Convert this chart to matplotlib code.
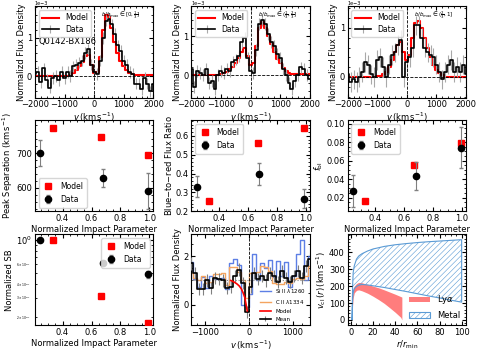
import numpy as np
import matplotlib
matplotlib.use("Agg")
import matplotlib.pyplot as plt

# ---- data ----
v_bins = np.arange(-2000, 2001, 100)

# flux in units of 1e-3
data1 = [0.05, 0.1, -0.15, 0.2, -0.1, -0.3, -0.05, 0.0, -0.1, 0.1, -0.05, 0.1, 0.0, 0.25,
         0.3, 0.35, 0.4, 0.6, 0.7, 0.3, 0.1, 0.05, 0.4, 1.0, 1.45, 1.5, 1.35, 1.1, 0.8, 0.65,
         0.4, 0.3, 0.1, 0.05, -0.2, -0.2, -0.35, -0.05, -0.2, -0.4, -0.2]
model1 = [0.0, 0.0, 0.0, 0.0, 0.0, 0.0, 0.0, 0.0, 0.0, 0.0, 0.01, 0.01, 0.02, 0.08,
          0.15, 0.25, 0.38, 0.52, 0.55, 0.3, 0.08, 0.1, 0.5, 1.2, 1.6, 1.55, 1.25, 0.9, 0.6, 0.4,
          0.25, 0.15, 0.08, 0.05, 0.04, 0.04, 0.03, 0.03, 0.03, 0.03, 0.03]
data2 = [0.15, -0.3, 0.1, 0.05, 0.0, 0.15, -0.2, -0.15, -0.35, 0.0, 0.1, 0.05, 0.15, 0.1,
         0.35, 0.4, 0.5, 0.85, 0.95, 0.45, 0.1, 0.05, 0.65, 1.3, 1.4, 1.3, 1.05, 0.85, 0.75, 0.55,
         0.45, 0.15, 0.0, -0.2, -0.35, -0.15, 0.0, 0.2, 0.15, 0.0, -0.1]
model2 = [0.0, 0.0, 0.0, 0.0, 0.0, 0.0, 0.0, 0.0, 0.0, 0.0, 0.02, 0.05, 0.08, 0.15,
          0.22, 0.32, 0.45, 0.6, 0.7, 0.5, 0.25, 0.3, 0.75, 1.2, 1.35, 1.2, 1.0, 0.8, 0.6, 0.42,
          0.3, 0.18, 0.1, 0.05, 0.02, 0.02, 0.02, 0.02, 0.02, 0.02, 0.02]
data3 = [0.05, -0.1, -0.05, -0.1, 0.0, 0.1, 0.3, 0.25, 0.05, 0.0, 0.35, 0.4, 0.2, 0.0,
         0.25, 0.45, 0.5, 0.65, 0.75, 0.0, 0.3, 0.4, 0.6, 1.05, 1.05, 0.8, 0.6, 0.5, 0.45, 0.4,
         0.25, 0.1, -0.05, 0.1, 0.25, 0.35, 0.1, 0.2, 0.1, 0.25, 0.05]
model3 = [0.0, 0.0, 0.0, 0.0, 0.0, 0.0, 0.0, 0.0, 0.0, 0.0, 0.01, 0.02, 0.05, 0.1,
          0.2, 0.35, 0.5, 0.65, 0.72, 0.5, 0.35, 0.45, 0.8, 1.1, 1.15, 1.0, 0.8, 0.6, 0.4, 0.25,
          0.15, 0.08, 0.03, 0.0, 0.0, 0.0, 0.0, 0.0, 0.0, 0.0, 0.0]
spec_err = [0.15, 0.15, 0.2]
spec_ylim = [(-0.56, 1.82), (-0.57, 1.76), (-0.42, 1.44)]
bin_labels = [r"$b/b_{\rm max}\in[0,\frac{1}{3}]$",
              r"$b/b_{\rm max}\in(\frac{1}{3},\frac{2}{3}]$",
              r"$b/b_{\rm max}\in(\frac{2}{3},1]$"]

b_data = [0.247, 0.68, 0.99]
b_model = [0.333, 0.667, 0.99]

sep_data = [700, 627, 592]
sep_lo = [38, 25, 52]
sep_hi = [38, 26, 51]
sep_model = [773, 747, 695]

ratio_data = [0.33, 0.397, 0.267]
ratio_err = [0.055, 0.057, 0.052]
ratio_model = [0.255, 0.563, 0.64]

fb_data = [0.027, 0.043, 0.074]
fb_err = [0.017, 0.015, 0.022]
fb_model = [0.016, 0.055, 0.079]

sb_data = [1.0, 0.62, 0.49]
sb_err = [0.0, 0.02, 0.035]
sb_model = [1.0, 0.31, 0.175]

v_met = np.arange(-1320, 1381, 90)
si2 = [1.75, 1.05, 0.75, 1.15, 0.7, 1.2, 1.05, 1.05, 1.1, 0.65, 1.7, 1.9, 1.65, 0.0, -0.1,
       0.45, 2.1, 1.0, 1.7, 1.5, 1.85, 1.15, 1.8, 1.2, 1.75, 0.75, 1.2, 2.1, 2.65, 1.0, 2.0]
c2 = [1.3, 1.1, 1.0, 1.2, 0.9, 0.95, 1.25, 1.25, 1.3, 0.8, 1.55, 1.55, 1.35, 1.0, 0.3,
      1.3, 1.3, 1.35, 1.6, 1.55, 1.4, 0.9, 0.85, 0.85, 0.95, 0.9, 1.05, 1.1, 1.05, 1.2, 1.6]
mean_met = [1.7, 1.3, 0.65, 0.65, 1.0, 0.7, 1.1, 1.05, 1.0, 0.7, 0.75, 1.2, 1.45, 0.9, -0.3,
            0.75, 1.3, 1.05, 1.2, 1.0, 1.3, 1.2, 0.95, 1.4, 1.1, 0.95, 1.2, 1.4, 1.1, 1.6, 1.9]
v_met_model = [-420, -380, -330, -280, -230, -180, -140, -100, -70, -45]
met_model = [1.0, 0.97, 0.92, 0.86, 0.78, 0.66, 0.5, 0.3, 0.0, -0.25]

r_lya = [1, 1.5, 2, 3, 5, 7, 10, 15, 20, 25, 30, 35, 40, 45, 46]
lya_hi = [60, 150, 185, 200, 215, 222, 220, 210, 200, 190, 178, 165, 152, 138, 135]
lya_lo = [0, 90, 130, 160, 175, 178, 172, 158, 140, 120, 98, 72, 45, 15, 0]
r_met = [1, 1.5, 2, 3, 5, 7, 10, 15, 20, 30, 40, 50, 60, 70, 80, 90, 100]
met_hi = [0, 200, 280, 320, 360, 378, 392, 408, 420, 435, 445, 452, 458, 463, 467, 471, 475]
met_lo = [0, 120, 160, 185, 198, 205, 210, 207, 202, 192, 180, 168, 155, 142, 130, 117, 105]

# ---- style ----
plt.rcParams.update({
    "font.size": 6,
    "xtick.direction": "in", "ytick.direction": "in",
    "xtick.top": True, "ytick.right": True,
    "xtick.major.size": 3, "ytick.major.size": 3,
    "xtick.minor.size": 1.5, "ytick.minor.size": 1.5,
    "xtick.minor.visible": True, "ytick.minor.visible": True,
    "legend.fontsize": 5.5,
    "hatch.linewidth": 0.4,
})

fig, axes = plt.subplots(3, 3, figsize=(4.79, 3.53), dpi=100)
fig.subplots_adjust(left=0.073, right=0.973, top=0.982, bottom=0.078, wspace=0.32, hspace=0.25)

# row 1: Lya spectra
specs = [(data1, model1), (data2, model2), (data3, model3)]
for i, (d, m) in enumerate(specs):
    ax = axes[0, i]
    ax.plot(v_bins, m, color="red", lw=1.5, drawstyle="steps-mid", label="Model")
    ax.errorbar(v_bins, d, yerr=spec_err[i], color="k", lw=1.2,
                drawstyle="steps-mid", ecolor="darkgrey", elinewidth=0.8, label="Data")
    ax.axvline(0, color="k", ls="--", lw=0.6)
    ax.axhline(0, color="k", ls="--", lw=0.6)
    ax.set_xlim(-2000, 2000)
    ax.set_ylim(*spec_ylim[i])
    ax.set_yticks([0, 1])
    ax.set_xlabel(r"$v\,(\rm km\,s^{-1})$", labelpad=1)
    ax.set_ylabel("Normalizd Flux Density", labelpad=1)
    ax.text(0.0, 1.003, "1e\u22123", transform=ax.transAxes, fontsize=3.5, va="bottom")
    ax.legend(loc="upper left", handlelength=2.2, borderpad=0.4, labelspacing=0.3)
    ax.text(0.56, 0.88, bin_labels[i], transform=ax.transAxes, fontsize=4)
    ax.tick_params(pad=2)
axes[0, 0].text(-1880, 0.85, "Q0142-BX186", fontsize=6)

# row 2
def points(ax, yd, ylo, yhi, ym, loc):
    ax.plot(b_model, ym, "s", color="red", ms=4.5, label="Model", zorder=3)
    ax.errorbar(b_data, yd, yerr=[ylo, yhi], fmt="o", color="k", ms=4.5, ecolor="grey",
                elinewidth=0.8, capsize=1.5, label="Data", zorder=3)
    ax.set_xlim(0.21, 1.027)
    ax.set_xticks([0.4, 0.6, 0.8, 1.0])
    ax.set_xlabel("Normalized Impact Parameter", labelpad=1)
    ax.legend(loc=loc, handlelength=1.5, borderpad=0.5, labelspacing=0.5)
    ax.tick_params(pad=2)

ax = axes[1, 0]
points(ax, sep_data, sep_lo, sep_hi, sep_model, "lower left")
ax.set_ylim(532, 794)
ax.set_yticks([600, 700])
ax.set_ylabel(r"Peak Separation $(\rm km\,s^{-1})$", labelpad=1)

ax = axes[1, 1]
points(ax, ratio_data, ratio_err, ratio_err, ratio_model, "upper left")
ax.set_ylim(0.198, 0.683)
ax.set_ylabel(r"Blue$-$to$-$red Flux Ratio", labelpad=1)

ax = axes[1, 2]
points(ax, fb_data, fb_err, fb_err, fb_model, "upper left")
ax.set_ylim(0.005, 0.1035)
ax.set_yticks([0.02, 0.04, 0.06, 0.08, 0.10])
ax.set_ylabel(r"$f_{\rm bl}$", labelpad=1)

# row 3, col 1: SB
ax = axes[2, 0]
ax.set_yscale("log")
points(ax, sb_data, sb_err, sb_err, sb_model, "upper right")
ax.set_ylim(0.167, 1.13)
ax.set_ylabel("Normalized SB", labelpad=1)
ax.tick_params(which="minor", labelsize=2.2)

# row 3, col 2: metal absorption
ax = axes[2, 1]
ax.plot(v_met, si2, color="royalblue", lw=1.0, drawstyle="steps-mid", alpha=0.85, label=r"Si II $\lambda$1260")
ax.plot(v_met, c2, color="sandybrown", lw=1.0, drawstyle="steps-mid", label=r"C II $\lambda$1334")
ax.plot(v_met_model, met_model, color="red", lw=1.2, label="Model", zorder=4)
ax.errorbar(v_met, mean_met, yerr=0.25, color="k", lw=1.2, drawstyle="steps-mid",
            ecolor="grey", elinewidth=0.8, label="Mean", zorder=3)
ax.axvline(0, color="k", ls="--", lw=0.6)
ax.axhline(1, color="grey", ls=":", lw=0.8)
ax.set_xlim(-1320, 1380)
ax.set_ylim(-0.85, 2.9)
ax.set_yticks([0, 2])
ax.set_xlabel(r"$v\,(\rm km\,s^{-1})$", labelpad=1)
ax.set_ylabel("Normalized Flux Density", labelpad=1)
ax.legend(loc="lower right", fontsize=4, frameon=False, handlelength=2, labelspacing=0.5,
          borderaxespad=0.3)
ax.tick_params(pad=2)

# row 3, col 3: velocity profile
ax = axes[2, 2]
ax.fill_between(r_lya, lya_lo, lya_hi, color="#ff6f6f", alpha=0.9, lw=0, label=r"Ly$\alpha$")
ax.fill_between(r_met, met_lo, met_hi, facecolor="none", edgecolor="#5b9bd5", hatch="//////",
                lw=0.8, label="Metal")
ax.set_xlim(-3, 104)
ax.set_ylim(-33, 507)
ax.set_xticks([0, 20, 40, 60, 80, 100])
ax.set_yticks([0, 100, 200, 300, 400])
ax.set_xlabel(r"$r/r_{\rm min}$", labelpad=1)
ax.set_ylabel(r"$v_{\rm cl}\,(r)\,(\rm km\,s^{-1})$", labelpad=1)
ax.legend(loc="lower right", fontsize=6, frameon=False, handlelength=2.5, borderaxespad=0.3)
ax.tick_params(pad=2)

fig.savefig("out.png", dpi=100)
